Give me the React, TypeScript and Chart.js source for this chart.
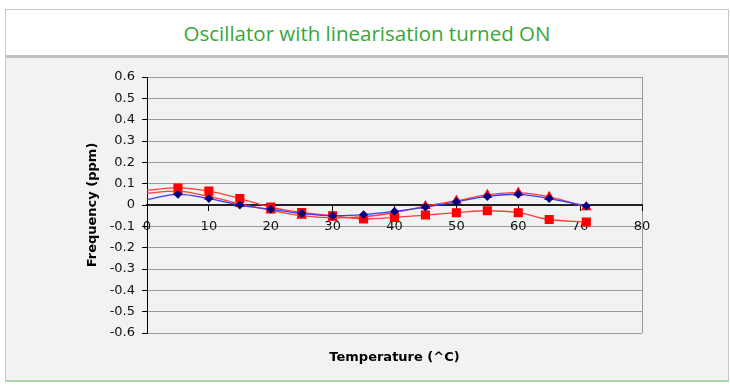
import React, { useEffect, useRef } from "react";
import { Chart, registerables } from "chart.js";

Chart.register(...registerables);

const temperatures = [0, 5, 10, 15, 20, 25, 30, 35, 40, 45, 50, 55, 60, 65, 71];
const blueSeries = [0.025, 0.05, 0.03, 0.0, -0.02, -0.04, -0.05, -0.045, -0.03, -0.01, 0.015, 0.04, 0.05, 0.03, -0.005];
const triangleSeries = [0.055, 0.065, 0.04, 0.005, -0.025, -0.05, -0.06, -0.055, -0.035, -0.005, 0.02, 0.047, 0.058, 0.038, -0.01];
const squareSeries = [0.07, 0.08, 0.065, 0.03, -0.01, -0.035, -0.05, -0.065, -0.058, -0.047, -0.036, -0.027, -0.036, -0.068, -0.08];

const titleText = "Oscillator with linearisation turned ON";
const xTitle = "Temperature (^C)";
const yTitle = "Frequency (ppm)";

const toPoints = (ys: number[]) => ys.map((y, i) => ({ x: temperatures[i], y }));
const radii = (r: number) => temperatures.map((t) => (t === 0 ? 0 : r));

export default function App() {
  const ref = useRef<HTMLCanvasElement | null>(null);

  useEffect(() => {
    if (!ref.current) return;
    const xTitlePlugin = {
      id: "xTitlePlugin",
      afterDraw(chart: any) {
        const { ctx, chartArea } = chart;
        ctx.save();
        ctx.font = "bold 13px 'DejaVu Sans'";
        ctx.fillStyle = "#000";
        ctx.textAlign = "center";
        ctx.textBaseline = "middle";
        ctx.fillText(xTitle, (chartArea.left + chartArea.right) / 2, 358);
        ctx.restore();
      },
    };
    const chart = new Chart(ref.current, {
      type: "line",
      data: {
        datasets: [
          {
            label: "A",
            data: toPoints(blueSeries),
            borderColor: "#3a3aff",
            backgroundColor: "#000080",
            pointBorderColor: "#000080",
            pointStyle: "rectRot",
            pointRadius: radii(3.5),
            borderWidth: 1.3,
            tension: 0.4,
          },
          {
            label: "B",
            data: toPoints(triangleSeries),
            borderColor: "#ff3c3c",
            backgroundColor: "#ff0000",
            pointBorderColor: "#ff0000",
            pointStyle: "triangle",
            pointRadius: radii(4.8),
            borderWidth: 1.3,
            tension: 0.4,
          },
          {
            label: "C",
            data: toPoints(squareSeries),
            borderColor: "#ff3c3c",
            backgroundColor: "#ff0000",
            pointBorderColor: "#ff0000",
            pointStyle: "rect",
            pointRadius: radii(5.5),
            borderWidth: 1.3,
            tension: 0.4,
          },
        ],
      },
      options: {
        animation: false,
        responsive: false,
        devicePixelRatio: 1,
        layout: { padding: { left: 85, right: 88, top: 77, bottom: 53 } },
        plugins: { legend: { display: false }, tooltip: { enabled: false }, title: { display: false } },
        scales: {
          x: {
            type: "linear",
            position: { y: 0 } as any,
            min: 0,
            max: 80,
            ticks: {
              stepSize: 10,
              padding: 9,
              color: "#111",
              font: { family: "'DejaVu Sans'", size: 13 },
              maxRotation: 0,
            },
            grid: {
              color: (c: any) => (c.tick && c.tick.value === 80 ? "#999999" : "rgba(0,0,0,0)"),
              tickColor: "#000",
              tickLength: 5,
              lineWidth: 1,
            },
            border: { color: "#222", width: 2 },
          },
          y: {
            type: "linear",
            min: -0.6,
            max: 0.6,
            afterFit: (s: any) => {
              s.width = 62;
            },
            ticks: {
              stepSize: 0.1,
              padding: 7,
              color: "#111",
              font: { family: "'DejaVu Sans'", size: 13 },
              callback: (v: any) => String(Number(Number(v).toFixed(1))),
            },
            grid: {
              color: (c: any) => (c.tick && Math.abs(c.tick.value) < 1e-9 ? "rgba(0,0,0,0)" : "#9a9a9a"),
              tickColor: "#000",
              tickLength: 5,
              lineWidth: 1,
            },
            border: { color: "#000", width: 1 },
            title: {
              display: true,
              text: yTitle,
              color: "#000",
              font: { family: "'DejaVu Sans'", size: 13, weight: "bold" },
              padding: 0,
            },
          },
        },
      },
      plugins: [xTitlePlugin],
    });
    return () => chart.destroy();
  }, []);

  return (
    <div style={{ position: "fixed", left: 0, top: 0, width: 730, height: 386, background: "#fff" }}>
      <div
        style={{
          position: "absolute",
          left: 5,
          top: 9,
          width: 724,
          height: 373,
          boxSizing: "border-box",
          border: "1px solid #c8c8c8",
          borderBottom: "2px solid #a6d8a6",
          background: "#f2f2f2",
        }}
      >
        <div
          style={{
            height: 45,
            background: "#fff",
            borderBottom: "3px solid #c0c0c0",
            textAlign: "center",
            lineHeight: "46px",
            fontFamily: "'Open Sans', sans-serif",
            fontSize: 20.5,
            color: "#36a836",
          }}
        >
          {titleText}
        </div>
      </div>
      <canvas ref={ref} width={730} height={386} style={{ position: "absolute", left: 0, top: 0 }} />
    </div>
  );
}
